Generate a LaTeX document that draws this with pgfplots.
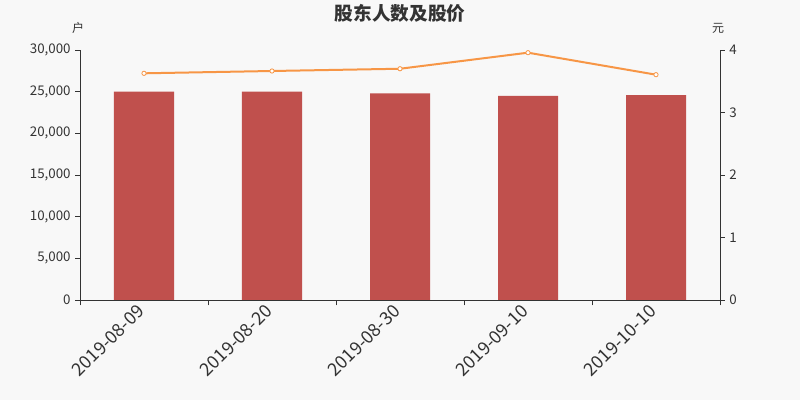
\documentclass[border=0pt]{standalone}
\usepackage{fontspec}
\setmainfont{Noto Sans CJK SC}
\usepackage{pgfplots}
\pgfplotsset{compat=1.18}
\definecolor{bg}{HTML}{F8F8F8}
\definecolor{barred}{HTML}{C0504D}
\definecolor{lineor}{HTML}{F79646}
\definecolor{txt}{HTML}{333333}

\begin{document}
\begin{tikzpicture}
% 800x400 px canvas, 1px = 0.75pt
\path[use as bounding box, fill=bg] (0pt,0pt) rectangle (600pt,300pt);
\node[font=\bfseries\fontsize{14}{16}\selectfont, text=txt] at (300pt,290pt) {股东人数及股价};
\node[font=\fontsize{9}{10}\selectfont, text=txt] at (58.5pt,279pt) {户};
\node[font=\fontsize{9}{10}\selectfont, text=txt] at (538.5pt,279pt) {元};

\begin{axis}[
  name=ax,
  at={(60pt,75pt)}, anchor=south west,
  scale only axis, width=480pt, height=187.5pt,
  xmin=-0.5, xmax=4.5, ymin=0, ymax=30000,
  axis y line*=left, axis x line*=bottom,
  axis line style={txt, line width=0.6pt},
  tick align=outside,
  xtick={0,1,2,3,4},
  xticklabels={2019-08-09,2019-08-20,2019-08-30,2019-09-10,2019-10-10},
  major x tick style={draw=none},
  minor xtick={-0.5,0.5,1.5,2.5,3.5,4.5},
  minor tick length=4pt,
  minor x tick style={txt, line width=0.6pt},
  xticklabel style={rotate=45, anchor=east, font=\fontsize{13.5}{14}\selectfont, text=txt},
  ytick={0,5000,10000,15000,20000,25000,30000},
  major tick length=3.5pt,
  y tick style={txt, line width=0.6pt},
  yticklabel style={font=\fontsize{10}{11}\selectfont, text=txt},
  scaled y ticks=false,
  /pgf/number format/assume math mode=true,
  /pgf/number format/.cd, 1000 sep={,}, /tikz/.cd,
]
\addplot[ybar, bar width=45pt, fill=barred, draw=none] coordinates {
  (0,25000) (1,25000) (2,24780) (3,24480) (4,24580)
};
\end{axis}

\begin{axis}[
  at={(ax.south west)}, anchor=south west,
  scale only axis, width=480pt, height=187.5pt,
  xmin=-0.5, xmax=4.5, ymin=0, ymax=4,
  axis x line=none, axis y line*=right,
  axis line style={txt, line width=0.6pt},
  tick align=outside,
  ytick={0,1,2,3,4},
  major tick length=3.5pt,
  y tick style={txt, line width=0.6pt},
  yticklabel style={font=\fontsize{10}{11}\selectfont, text=txt},
  /pgf/number format/assume math mode=true,
]
\addplot[lineor, line width=1.5pt, mark=*, mark size=1.6pt,
  mark options={fill=white, draw=lineor, line width=0.6pt}] coordinates {
  (0,3.627) (1,3.664) (2,3.70) (3,3.957) (4,3.605)
};
\end{axis}
\end{tikzpicture}
\end{document}
